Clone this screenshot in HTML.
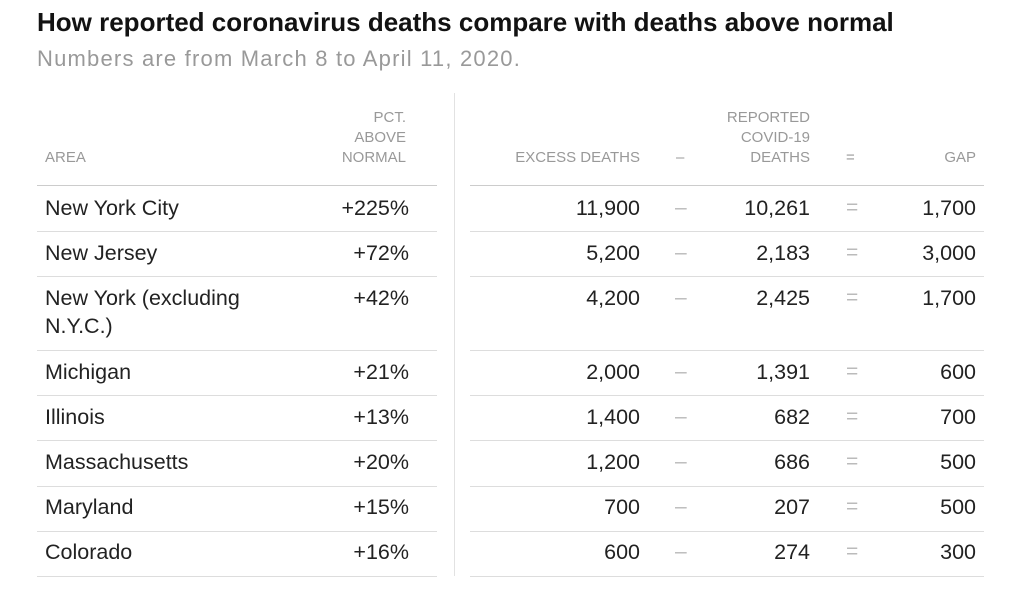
<!DOCTYPE html>
<html><head><meta charset="utf-8"><style>
body{margin:0;width:1022px;height:590px;background:#fff;font-family:"Liberation Sans",Arial,sans-serif;position:relative;overflow:hidden}
.a{position:absolute;white-space:nowrap}
.h{color:#999;font-size:15px;line-height:20px;text-align:right}
.t{color:#222;font-size:21.5px;line-height:26px}
.g{color:#bbb;font-size:21px;line-height:26px}
.ln{position:absolute;height:1px;background:#ddd}
</style></head><body>
<div class="a" style="left:37px;top:7px;font-size:26px;font-weight:bold;color:#121212;letter-spacing:0px">How reported coronavirus deaths compare with deaths above normal</div>
<div class="a" style="left:37px;top:46px;font-size:22px;color:#999;letter-spacing:1.2px">Numbers are from March 8 to April 11, 2020.</div>
<div style="position:absolute;left:454px;top:93px;width:1px;height:483px;background:#e2e2e2"></div>
<div class="a h" style="left:45px;top:148px;text-align:left">AREA</div>
<div class="a h" style="right:616px;top:108px">PCT.<br>ABOVE<br>NORMAL</div>
<div class="a h" style="right:382px;top:148px">EXCESS DEATHS</div>
<div class="a h" style="left:676px;top:148px">–</div>
<div class="a h" style="right:212px;top:108px">REPORTED<br>COVID-19<br>DEATHS</div>
<div class="a h" style="left:846px;top:148px">=</div>
<div class="a h" style="right:46px;top:148px">GAP</div>
<div class="ln" style="left:37px;top:185px;width:400px;background:#ccc"></div>
<div class="ln" style="left:470px;top:185px;width:514px;background:#ccc"></div>
<div id="rows"></div>
<script>
var d=[["New York City","+225%","11,900","10,261","1,700",208],
["New Jersey","+72%","5,200","2,183","3,000",253],
["New York (excluding<br>N.Y.C.)","+42%","4,200","2,425","1,700",298],
["Michigan","+21%","2,000","1,391","600",372],
["Illinois","+13%","1,400","682","700",417],
["Massachusetts","+20%","1,200","686","500",462],
["Maryland","+15%","700","207","500",507],
["Colorado","+16%","600","274","300",552]];
var lines=[231,276,350,395,440,486,531,576];
var h="";
d.forEach(function(r,i){var t=r[5]-13;
h+='<div class="a t" style="left:45px;top:'+t+'px;line-height:28px;margin-top:-1px">'+r[0]+'</div>';
h+='<div class="a t" style="right:613px;top:'+t+'px">'+r[1]+'</div>';
h+='<div class="a t" style="right:382px;top:'+t+'px">'+r[2]+'</div>';
h+='<div class="a g" style="left:675px;top:'+t+'px">–</div>';
h+='<div class="a t" style="right:212px;top:'+t+'px">'+r[3]+'</div>';
h+='<div class="a g" style="left:846px;top:'+t+'px">=</div>';
h+='<div class="a t" style="right:46px;top:'+t+'px">'+r[4]+'</div>';
h+='<div class="ln" style="left:37px;top:'+lines[i]+'px;width:400px"></div>';
h+='<div class="ln" style="left:470px;top:'+lines[i]+'px;width:514px"></div>';});
document.getElementById("rows").innerHTML=h;
</script>
</body></html>
